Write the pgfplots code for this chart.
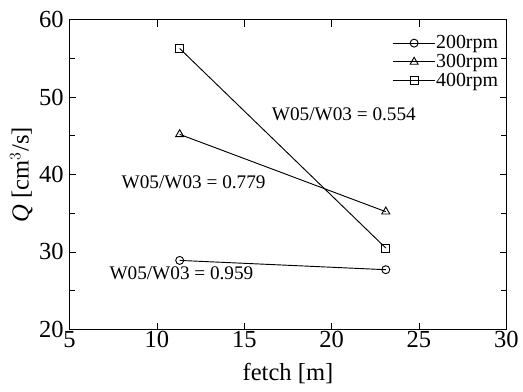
\documentclass[border=0pt]{standalone}
\usepackage{pgfplots}
\pgfplotsset{compat=1.18}
\usepackage{fontspec}
\setmainfont{Liberation Serif}
\begin{document}
\begin{tikzpicture}
\begin{axis}[
  name=ax,
  scale only axis,
  width=329.25pt, height=233.25pt,
  xmin=5, xmax=30, ymin=20, ymax=60,
  xtick={5,10,...,30},
  ytick={20,30,...,60},
  minor y tick num=1,
  tick align=inside,
  major tick length=5pt, minor tick length=4pt,
  tick style={black, line width=0.6pt},
  axis line style={line width=0.8pt},
  /pgf/number format/assume math mode=true,
  ticklabel style={font=\fontsize{18.5}{20}\selectfont},
  xticklabel style={yshift=2pt},
  yticklabel style={xshift=-1pt},
  xlabel={fetch [m]},
  ylabel={\textit{Q} [cm$^3$/s]},
  label style={font=\fontsize{18.5}{20}\selectfont},
  xlabel style={yshift=-5pt},
  ylabel style={yshift=-2pt},
  legend style={draw=none, fill=none, at={(0.985,0.955)}, anchor=north east,
    font=\fontsize{15}{15}\selectfont, row sep=1.5pt, inner sep=0.5pt,
    nodes={inner sep=0.6pt}},
  legend cell align=left,
  legend image code/.code={
    \draw[#1, mark=none] (0cm,0cm) -- (1.1cm,0cm);
    \draw[#1, only marks] plot coordinates {(0.55cm,0cm)};
  },
]
\addplot[black, line width=0.7pt, mark=o, mark size=3pt, mark options={fill=white, line width=0.7pt}]
  coordinates {(11.3,28.9) (23.1,27.7)};
\addlegendentry{200rpm}
\addplot[black, line width=0.7pt, mark=triangle, mark size=3.5pt, mark options={fill=white, line width=0.7pt}]
  coordinates {(11.3,45.2) (23.1,35.2)};
\addlegendentry{300rpm}
\addplot[black, line width=0.7pt, mark=square, mark size=3pt, mark options={fill=white, line width=0.7pt}]
  coordinates {(11.3,56.3) (23.1,30.5)};
\addlegendentry{400rpm}
\node[font=\fontsize{14.5}{15}\selectfont] at (axis cs:20.7,47.8) {W05/W03 = 0.554};
\node[font=\fontsize{14.5}{15}\selectfont] at (axis cs:12.1,39.05) {W05/W03 = 0.779};
\node[font=\fontsize{14.5}{15}\selectfont] at (axis cs:11.4,27.2) {W05/W03 = 0.959};
\end{axis}
\path ([shift={(-52.5pt,-47.25pt)}]ax.south west) rectangle ([shift={(10.5pt,15pt)}]ax.north east);
\end{tikzpicture}
\end{document}
